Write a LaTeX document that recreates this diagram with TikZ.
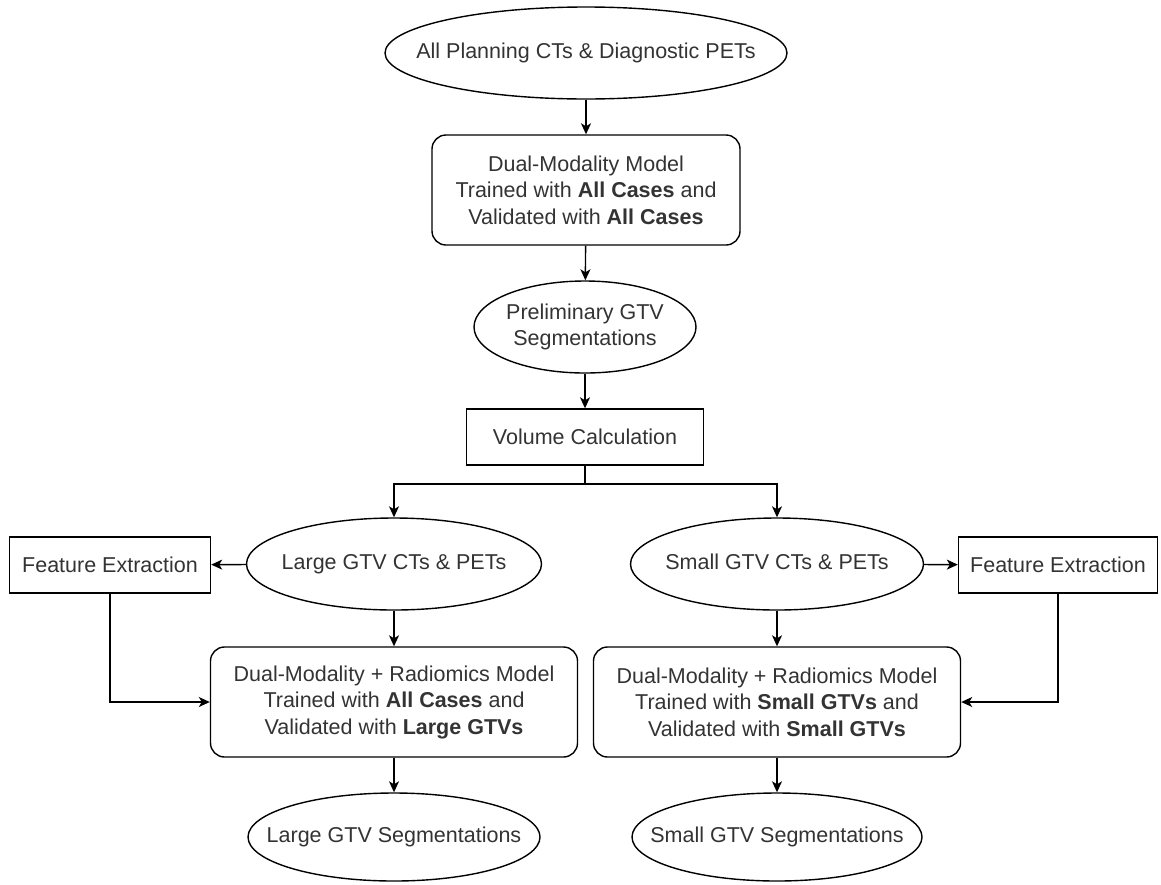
\documentclass[tikz,border=0pt]{standalone}
\usepackage{fontspec}
\setmainfont{Liberation Sans}
\usepackage{tikz}
\usetikzlibrary{positioning,arrows.meta,shapes.geometric}

% keep the ellipse size independent of its text
\newcommand{\ovaltext}[1]{\makebox[0pt]{\begin{tabular}{@{}c@{}}#1\end{tabular}}}

\begin{document}
\begin{tikzpicture}[
		x=1pt, y=-1pt,
		>={Stealth[length=11pt, width=10pt, inset=3pt]},
		every text node part/.style={align=center},
		every node/.style={font=\fontsize{21.5}{26.5}\selectfont, text=black!80, line width=1.4pt},
		every path/.style={line width=1.4pt},
		oval/.style={draw, ellipse, inner sep=0pt},
		roundbox/.style={draw, rounded corners=14pt, inner sep=0pt},
		plainbox/.style={draw, inner sep=0pt}
	]
	\useasboundingbox (0,0) rectangle (1161,884);

	% main column
	\node(allscans)[oval, minimum width=402, minimum height=92] at (586,53) {\ovaltext{All Planning CTs \& Diagnostic PETs}};
	\node(dualmodel)[roundbox, minimum width=308, minimum height=110] at (586,190) {Dual-Modality Model\\Trained with \textbf{All Cases} and\\Validated with \textbf{All Cases}};
	\node(prelim)[oval, minimum width=222, minimum height=92] at (585,327) {\ovaltext{Preliminary GTV\\Segmentations}};
	\node(volume)[plainbox, minimum width=237, minimum height=56] at (585,437) {Volume Calculation};
	\coordinate(split) at (585,484);

	% large GTV branch
	\node(large)[oval, minimum width=295, minimum height=92] at (394,564) {\ovaltext{Large GTV CTs \& PETs}};
	\node(featL)[plainbox, minimum width=201, minimum height=56] at (110,565) {Feature Extraction};
	\node(modelL)[roundbox, minimum width=367, minimum height=110] at (394,702) {Dual-Modality + Radiomics Model\\Trained with \textbf{All Cases} and\\Validated with \textbf{Large GTVs}};
	\node(segL)[oval, minimum width=292, minimum height=88] at (394,837) {\ovaltext{Large GTV Segmentations}};

	% small GTV branch
	\node(small)[oval, minimum width=293, minimum height=92] at (777,564) {\ovaltext{Small GTV CTs \& PETs}};
	\node(featR)[plainbox, minimum width=199, minimum height=56] at (1058,565) {Feature Extraction};
	\node(modelR)[roundbox, minimum width=367, minimum height=110] at (777,702) {Dual-Modality + Radiomics Model\\Trained with \textbf{Small GTVs} and\\Validated with \textbf{Small GTVs}};
	\node(segR)[oval, minimum width=290, minimum height=88] at (777,837) {\ovaltext{Small GTV Segmentations}};

	\draw[->] (allscans) -- (dualmodel);
	\draw[->] (dualmodel) -- (prelim);
	\draw[->] (prelim) -- (volume);
	\draw (volume) -- (split);
	\draw[->] (split) -| (large);
	\draw[->] (split) -| (small);

	\draw[->] (large) -- (featL);
	\draw[->] (small) -- (featR);
	\draw[->] (large) -- (modelL);
	\draw[->] (small) -- (modelR);
	\draw[->] (featL) |- (modelL);
	\draw[->] (featR) |- (modelR);
	\draw[->] (modelL) -- (segL);
	\draw[->] (modelR) -- (segR);
\end{tikzpicture}
\end{document}
